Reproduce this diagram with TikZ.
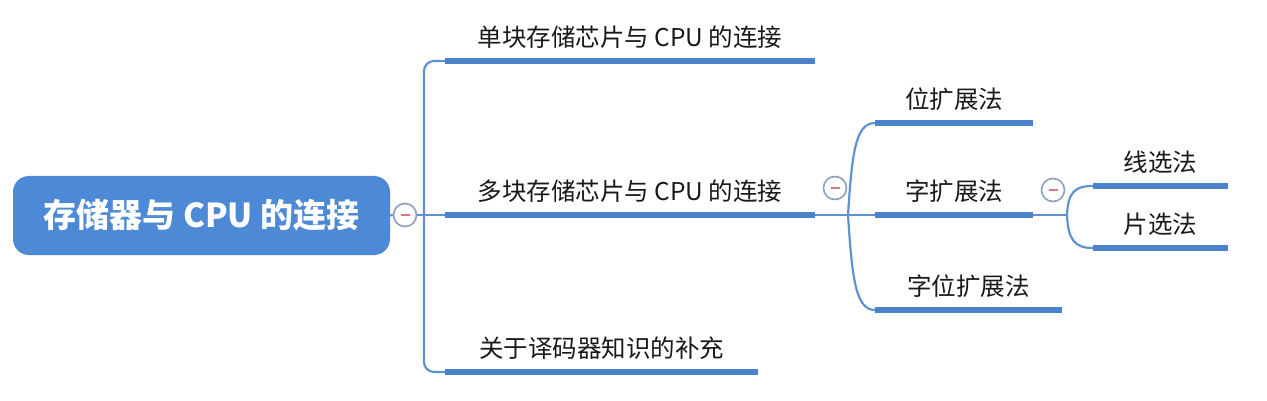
\documentclass[tikz,border=0pt]{standalone}
\usepackage{fontspec}
\newfontfamily\cjk{Noto Sans CJK SC}
\usepackage{tikz}
\usetikzlibrary{calc}

\definecolor{rootblue}{RGB}{78,137,214}
\definecolor{lineblue}{RGB}{74,130,204}
\definecolor{linkblue}{RGB}{96,146,210}
\definecolor{knobgray}{RGB}{140,160,190}
\definecolor{knobred}{RGB}{214,120,140}
\definecolor{inkgray}{RGB}{25,25,25}

\tikzset{
  root/.style={rounded corners=16pt, fill=rootblue, text=white, inner sep=0pt,
    font=\cjk\bfseries\fontsize{33}{36}\selectfont, minimum width=377pt, minimum height=79pt},
  topic/.style={font=\cjk\fontsize{24.5}{28}\selectfont, text=inkgray, inner sep=0pt,
    minimum height=47pt, anchor=south},
  uline/.style={lineblue, line width=5.5pt},
  link/.style={linkblue, line width=2.2pt},
  knob/.style={circle, draw=knobgray, line width=1.6pt, fill=white, minimum size=23pt, inner sep=0pt,
    path picture={\draw[knobred, line width=1.6pt]
      ($(path picture bounding box.center)+(-4.5,0)$) -- ($(path picture bounding box.center)+(4.5,0)$);}},
}

\begin{document}
\begin{tikzpicture}[x=1pt,y=-1pt]
  \useasboundingbox (0,0) rectangle (1267,401);

  % Root
  \node[root] (root) at (201.5,215.5) {存储器与 CPU 的连接};
  \node[knob] (k1) at (405,215) {};

  % First level
  \node[topic, minimum width=370pt] (single) at (630,61) {单块存储芯片与 CPU 的连接};
  \node[topic, minimum width=370pt] (multi) at (630,215) {多块存储芯片与 CPU 的连接};
  \node[topic, minimum width=313pt] (decoder) at (601.5,372) {关于译码器知识的补充};

  % Second level
  \node[topic, minimum width=158pt] (bitext) at (954,123) {位扩展法};
  \node[topic, minimum width=158pt] (wordext) at (954,215) {字扩展法};
  \node[topic, minimum width=187pt] (bothext) at (968.5,310) {字位扩展法};
  \node[knob] (k2) at (835,188) {};

  % Third level
  \node[topic, minimum width=135pt] (linesel) at (1160.5,186) {线选法};
  \node[topic, minimum width=135pt] (chipsel) at (1160.5,248) {片选法};
  \node[knob] (k3) at (1053,190) {};

  % Junctions
  \coordinate (j1) at (424,215);
  \coordinate (j2) at (848,215);
  \coordinate (j3) at (1067,215);

  % Links
  \draw[link] (root.east) -- (k1.west);
  \draw[link] (k1.east) -- (multi.south west);
  \draw[link, rounded corners=10pt] (single.south west) -| (j1) |- (decoder.south west);

  \draw[link] (multi.south east) -- (j2);
  \draw[link] (j2) .. controls (852,155) and (855,123) .. (bitext.south west);
  \draw[link] (j2) -- (wordext.south west);
  \draw[link] (j2) .. controls (852,275) and (855,310) .. (bothext.south west);

  \draw[link] (wordext.south east) -- (j3);
  \draw[link] (j3) .. controls (1068,192) and (1075,186) .. (linesel.south west);
  \draw[link] (j3) .. controls (1068,240) and (1075,248) .. (chipsel.south west);

  % Underlines
  \foreach \n in {single,multi,decoder,bitext,wordext,bothext,linesel,chipsel}
    \draw[uline] (\n.south west) -- (\n.south east);
\end{tikzpicture}
\end{document}
